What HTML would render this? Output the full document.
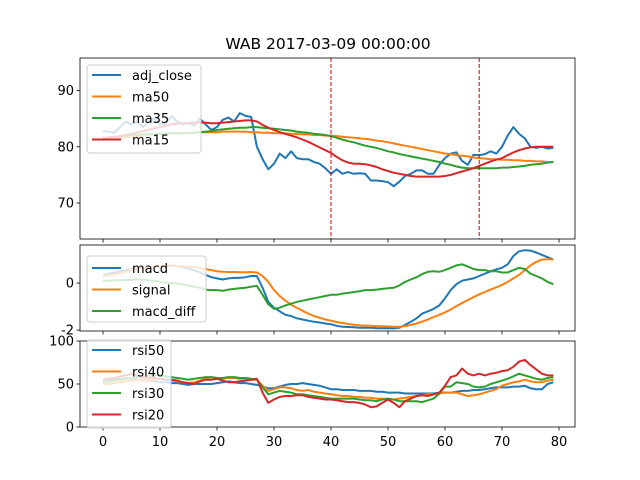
<!DOCTYPE html>
<html><head><meta charset="utf-8"><style>
body{margin:0;background:#fff}
svg{display:block;font-family:"DejaVu Sans","Liberation Sans",sans-serif}
</style></head><body>
<svg id="chart" width="640" height="480" xmlns="http://www.w3.org/2000/svg"></svg>
<script>
const xTicks=[0,10,20,30,40,50,60,70,80];
const vlines=[40,66];
const adjClose=[82.8,82.7,82.5,83.5,84.5,84,84.5,83.5,84.5,85,84,84,85.5,84.5,84,84.2,83.8,85,84,83,83.5,84.8,85.2,84.5,86,85.5,85.3,80,77.8,76,77,78.8,78,79.2,78,77.8,77.8,77.3,77,76.2,75.2,76,75.2,75.5,75.2,75.3,75.2,74,74,73.9,73.7,73,73.8,74.8,75.2,75.8,75.8,75.2,75.2,76.8,78,78.8,79,77.5,76.8,78.6,78.5,78.7,79.2,78.8,80,82,83.5,82.3,81.5,80,79.8,80,79.7,79.8];
const ma50=[81.3,81.4,81.5,81.6,81.7,81.8,81.9,82.0,82.1,82.2,82.3,82.3,82.4,82.4,82.5,82.5,82.5,82.6,82.6,82.6,82.6,82.7,82.7,82.7,82.7,82.7,82.6,82.6,82.5,82.5,82.4,82.4,82.4,82.3,82.3,82.2,82.2,82.1,82.1,82.0,82.0,81.9,81.8,81.7,81.6,81.5,81.4,81.3,81.1,81.0,80.8,80.6,80.4,80.2,80.0,79.8,79.6,79.4,79.2,79.0,78.8,78.7,78.5,78.4,78.3,78.1,78.0,77.9,77.8,77.8,77.7,77.7,77.6,77.6,77.5,77.5,77.4,77.4,77.3,77.3];
const ma35=[81.6,81.7,81.8,81.9,82.0,82.1,82.2,82.2,82.3,82.3,82.3,82.4,82.4,82.4,82.4,82.4,82.5,82.6,82.7,82.8,83.0,83.1,83.2,83.3,83.4,83.4,83.5,83.5,83.4,83.3,83.2,83.1,83.0,82.9,82.7,82.6,82.5,82.3,82.2,82.1,81.9,81.6,81.3,81.0,80.8,80.5,80.2,80.0,79.8,79.5,79.2,79.0,78.7,78.5,78.3,78.1,77.9,77.7,77.5,77.3,77.0,76.8,76.5,76.3,76.2,76.2,76.2,76.2,76.2,76.2,76.3,76.3,76.4,76.5,76.6,76.8,76.9,77.0,77.2,77.3];
const ma15=[81.5,81.6,81.7,81.9,82.1,82.3,82.6,82.8,83.0,83.3,83.5,83.7,84.0,84.1,84.2,84.2,84.3,84.3,84.3,84.2,84.2,84.3,84.4,84.5,84.6,84.7,84.7,84.5,83.9,83.4,83.0,82.6,82.3,82.0,81.7,81.3,80.9,80.4,79.9,79.4,78.9,78.2,77.6,77.2,77.0,77.0,76.9,76.7,76.4,76.0,75.7,75.4,75.2,75.0,74.8,74.7,74.7,74.7,74.7,74.7,74.8,75.0,75.3,75.6,75.9,76.2,76.6,77.0,77.4,77.7,78.0,78.5,79.0,79.4,79.7,79.9,80.0,80.0,80.0,80.0];
const macd=[0.35,0.4,0.45,0.5,0.55,0.6,0.6,0.65,0.65,0.7,0.7,0.72,0.75,0.72,0.68,0.62,0.55,0.45,0.35,0.25,0.2,0.15,0.2,0.22,0.22,0.25,0.3,0.3,-0.2,-0.8,-1.05,-1.2,-1.35,-1.4,-1.5,-1.55,-1.6,-1.65,-1.68,-1.72,-1.75,-1.82,-1.86,-1.87,-1.88,-1.9,-1.9,-1.9,-1.92,-1.92,-1.92,-1.93,-1.9,-1.78,-1.65,-1.5,-1.3,-1.2,-1.1,-0.95,-0.65,-0.3,-0.05,0.1,0.15,0.2,0.3,0.4,0.5,0.58,0.65,0.8,1.15,1.35,1.4,1.38,1.3,1.2,1.1,1.0];
const signal=[0.3,0.33,0.37,0.42,0.48,0.55,0.6,0.63,0.66,0.7,0.71,0.72,0.72,0.72,0.72,0.7,0.68,0.65,0.6,0.55,0.5,0.48,0.47,0.47,0.46,0.46,0.47,0.45,0.3,0.05,-0.3,-0.55,-0.75,-0.92,-1.05,-1.18,-1.3,-1.4,-1.48,-1.55,-1.6,-1.66,-1.7,-1.74,-1.77,-1.8,-1.81,-1.82,-1.83,-1.84,-1.85,-1.86,-1.86,-1.83,-1.78,-1.72,-1.64,-1.55,-1.45,-1.35,-1.25,-1.12,-0.98,-0.85,-0.72,-0.6,-0.48,-0.38,-0.28,-0.18,-0.08,0.05,0.2,0.35,0.55,0.75,0.9,1.0,1.02,1.0];
const macdDiff=[0.1,0.1,0.12,0.12,0.13,0.14,0.15,0.15,0.12,0.1,0.05,0.02,0.0,-0.02,-0.05,-0.1,-0.15,-0.2,-0.28,-0.3,-0.3,-0.33,-0.28,-0.25,-0.22,-0.2,-0.15,-0.12,-0.5,-0.9,-1.1,-1.05,-0.95,-0.88,-0.8,-0.75,-0.7,-0.65,-0.6,-0.55,-0.5,-0.5,-0.45,-0.42,-0.38,-0.35,-0.3,-0.3,-0.28,-0.25,-0.22,-0.2,-0.1,0.05,0.15,0.25,0.38,0.48,0.5,0.48,0.55,0.65,0.75,0.8,0.7,0.6,0.55,0.55,0.5,0.5,0.45,0.45,0.55,0.65,0.6,0.4,0.3,0.2,0.05,-0.05];
const rsi50=[55,55,56,56,57,56,55,55,54,53,52,52,51,51,50,49,50,50,50,50,51,52,53,52,51,51,50,49,47,45,45,47,49,50,50,51,50,49,48,46,44,44,43,43,43,42,42,42,41,41,40,40,40,39,39,39,39,39,39,40,40,40,41,42,42,43,43,44,45,46,46,46,47,47,48,45,44,44,50,52];
const rsi40=[50,50,51,52,53,54,55,54,54,55,56,55,54,53,52,51,52,54,56,58,57,56,57,57,56,56,55,55,48,42,44,46,46,45,43,42,43,41,40,39,38,37,36,36,35,35,34,34,33,33,32,32,33,34,35,36,37,38,38,39,40,40,40,38,36,37,38,40,42,44,48,50,52,53,55,53,52,52,54,55];
const rsi30=[52,53,54,55,56,57,58,58,59,60,60,59,58,57,56,55,56,57,58,58,57,57,58,58,57,57,56,55,46,38,40,42,41,40,38,38,37,36,35,34,33,33,33,33,33,32,31,31,30,32,33,32,30,30,30,30,29,31,33,39,47,47,52,51,50,47,46,47,50,52,54,56,59,62,60,58,56,55,57,58];
const rsi20=[55,56,57,59,60,62,60,58,57,57,56,55,55,54,52,51,50,53,55,55,56,54,52,52,53,54,55,56,40,28,32,35,36,36,37,37,35,34,33,32,32,31,30,29,29,28,26,23,24,28,32,28,23,30,33,36,37,36,38,40,48,58,60,68,62,60,62,60,62,63,65,66,70,76,78,72,67,62,60,60];
const topTicks=[70,80,90];
const midTicks=[-2,0];
const botTicks=[0,50,100];

const svg=document.getElementById('chart');
const NS='http://www.w3.org/2000/svg';
function mk(tag,attrs,parent){const e=document.createElementNS(NS,tag);for(const k in attrs)e.setAttribute(k,attrs[k]);(parent||svg).appendChild(e);return e;}
const L=80,R=575;
const xs=v=>103+(v-0)*(559-103)/80;
const panels=[
 {name:'price-panel',top:58,bot:239,lo:63.6,hi:95.8,ticks:topTicks,series:[[adjClose,'#1f77b4','adj_close'],[ma50,'#ff7f0e','ma50'],[ma35,'#2ca02c','ma35'],[ma15,'#d62728','ma15']],leg:{x:87,y:65,w:114,h:88,y0:75}},
 {name:'macd-panel',top:245,bot:331,lo:-2.04,hi:1.62,ticks:midTicks,series:[[macd,'#1f77b4','macd'],[signal,'#ff7f0e','signal'],[macdDiff,'#2ca02c','macd_diff']],leg:{x:87,y:256,w:119,h:66,y0:268}},
 {name:'rsi-panel',top:341,bot:427,lo:0,hi:100,ticks:botTicks,series:[[rsi50,'#1f77b4','rsi50'],[rsi40,'#ff7f0e','rsi40'],[rsi30,'#2ca02c','rsi30'],[rsi20,'#d62728','rsi20']],leg:{x:87,y:340,w:84,h:88,y0:350}}
];
panels.forEach((p,pi)=>{
 const g=mk('g',{});
 
 
 const ys=v=>p.bot-(v-p.lo)*(p.bot-p.top)/(p.hi-p.lo);
 const clipId='c'+pi;
 const cp=mk('clipPath',{id:clipId},g);mk('rect',{x:L,y:p.top,width:R-L,height:p.bot-p.top},cp);
 p.series.forEach(s=>{
  const pts=s[0].map((v,i)=>xs(i).toFixed(1)+','+ys(v).toFixed(1)).join(' ');
  const pl=mk('polyline',{points:pts,fill:'none',stroke:s[1],'stroke-width':2,'stroke-linejoin':'round','clip-path':'url(#'+clipId+')'},g);
  
  
 });
 if(pi===0){vlines.forEach(v=>{
  const l=mk('line',{x1:xs(v),x2:xs(v),y1:p.top,y2:p.bot,stroke:'#d40000','stroke-width':1,'stroke-dasharray':'4,2'},g);
  
  
 });}
 mk('rect',{x:L,y:p.top,width:R-L,height:p.bot-p.top,fill:'none',stroke:'#000','stroke-width':0.8},g);
 p.ticks.forEach(t=>{
  const y=ys(t);
  mk('line',{x1:L-3.5,x2:L,y1:y,y2:y,stroke:'#000','stroke-width':0.8},g);
  const tx=mk('text',{x:L-6,y:y+4.5,'text-anchor':'end','font-size':13,fill:'#000'},g);tx.textContent=t;
  
  
 });
 xTicks.forEach(t=>{
  mk('line',{x1:xs(t),x2:xs(t),y1:p.bot,y2:p.bot+3.5,stroke:'#000','stroke-width':0.8},g);
  if(pi===2){const tx=mk('text',{x:xs(t),y:p.bot+19,'text-anchor':'middle','font-size':13,fill:'#000'},g);tx.textContent=t;
   
   }
 });
 const lg=mk('g',{},g);
 
 
 mk('rect',{x:p.leg.x,y:p.leg.y,width:p.leg.w,height:p.leg.h,rx:3,fill:'#fff','fill-opacity':0.8,stroke:'#ccc','stroke-width':1},lg);
 p.series.forEach((s,i)=>{
  const y=p.leg.y0+i*21.5;
  const e=mk('g',{},lg);
  
  
  mk('line',{x1:92,x2:121,y1:y,y2:y,stroke:s[1],'stroke-width':2},e);
  const tx=mk('text',{x:132,y:y+5,'font-size':13,fill:'#000'},e);tx.textContent=s[2];
 });
});
const title=mk('text',{x:328,y:49,'text-anchor':'middle','font-size':15.5,fill:'#000'});
title.textContent='WAB 2017-03-09 00:00:00';


</script>
</body></html>
